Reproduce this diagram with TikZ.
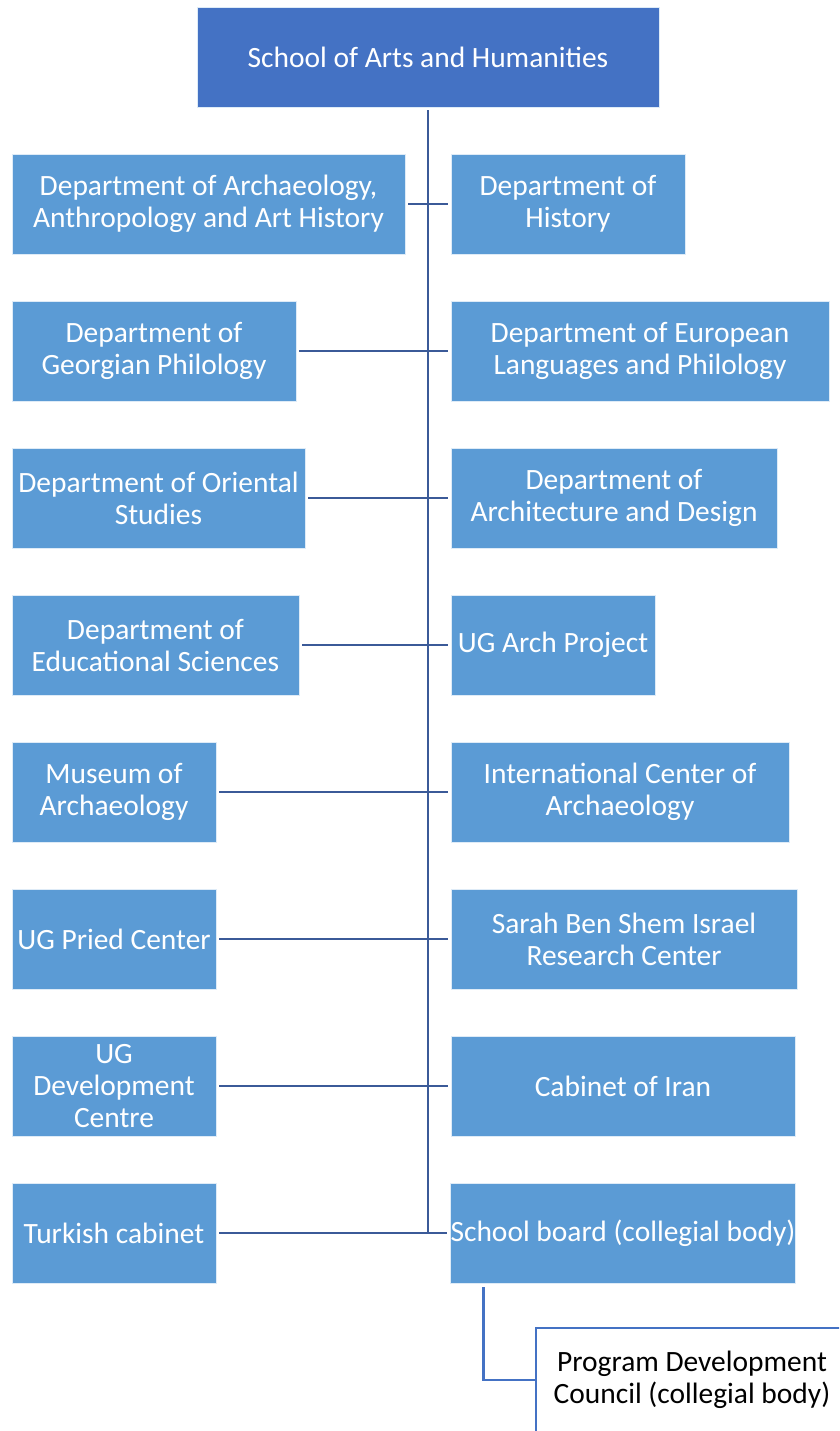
\documentclass[tikz,border=0pt]{standalone}
\usepackage{fontspec}
\setmainfont{Carlito}
\begin{document}
\begin{tikzpicture}[x=0.75pt,y=-0.75pt,
  box/.style={fill=boxblue, draw=white!80!boxblue, line width=0.5pt, text=white, align=center, inner sep=0pt,
    font=\fontsize{22.1pt}{24pt}\selectfont},
  topbox/.style={box, fill=topblue},
  pdcbox/.style={fill=white, draw=topblue, line width=1.6pt, text=black, align=center, inner sep=0pt,
    font=\fontsize{22.1pt}{24pt}\selectfont},
  conn/.style={draw=lineblue, line width=2.1pt},
  conn2/.style={draw=topblue, line width=2.1pt}]
\definecolor{boxblue}{HTML}{5B9BD5}
\definecolor{topblue}{HTML}{4472C4}
\definecolor{lineblue}{RGB}{59,90,152}
\newcommand\bx[7][box]{\node[#1, minimum width={(#4-#3)*0.75pt}, minimum height={(#6-#5)*0.75pt}] (#2) at ({(#3+#4)/2},{(#5+#6)/2}) {#7};}
\useasboundingbox (0,0) rectangle (839,1431);
\clip (0,0) rectangle (839,1431);
\bx[topbox]{top}{197}{659}{7}{107}{School of Arts and Humanities}
% left column
\bx{L1}{12}{405}{154}{254}{Department of Archaeology,\\Anthropology and Art History}
\bx{L2}{12}{296}{301}{401}{Department of\\Georgian Philology}
\bx{L3}{12}{305}{448}{548}{Department of Oriental\\Studies}
\bx{L4}{12}{299}{595}{695}{Department of\\Educational Sciences}
\bx{L5}{12}{216}{742}{842}{Museum of\\Archaeology}
\bx{L6}{12}{216}{889}{989}{UG Pried Center}
\bx{L7}{12}{216}{1036}{1136}{UG\\Development\\Centre}
\bx{L8}{12}{216}{1183}{1283}{Turkish cabinet}
% right column
\bx{R1}{451}{685}{154}{254}{Department of\\History}
\bx{R2}{451}{829}{301}{401}{Department of European\\Languages and Philology}
\bx{R3}{451}{777}{448}{548}{Department of\\Architecture and Design}
\bx{R4}{451}{655}{595}{695}{UG Arch Project}
\bx{R5}{451}{789}{742}{842}{International Center of\\Archaeology}
\bx{R6}{451}{797}{889}{989}{Sarah Ben Shem Israel\\Research Center}
\bx{R7}{451}{795}{1036}{1136}{Cabinet of Iran}
\bx{R8}{451}{795}{1183}{1283}{School board (collegial body)}
\bx[pdcbox]{pdc}{536}{848}{1328}{1432}{Program Development\\Council (collegial body)}
% connectors
\draw[conn] ([yshift=-2.25pt]top.south) -- (top.south |- L8.east);
\foreach \i in {1,...,8}{
  \draw[conn] ([xshift=2.25pt]L\i.east) -- ([xshift=-2.25pt]R\i.west);
}
\draw[conn2] ([xshift=24.75pt,yshift=-3pt]R8.south west) |- (pdc.west);
\end{tikzpicture}
\end{document}
